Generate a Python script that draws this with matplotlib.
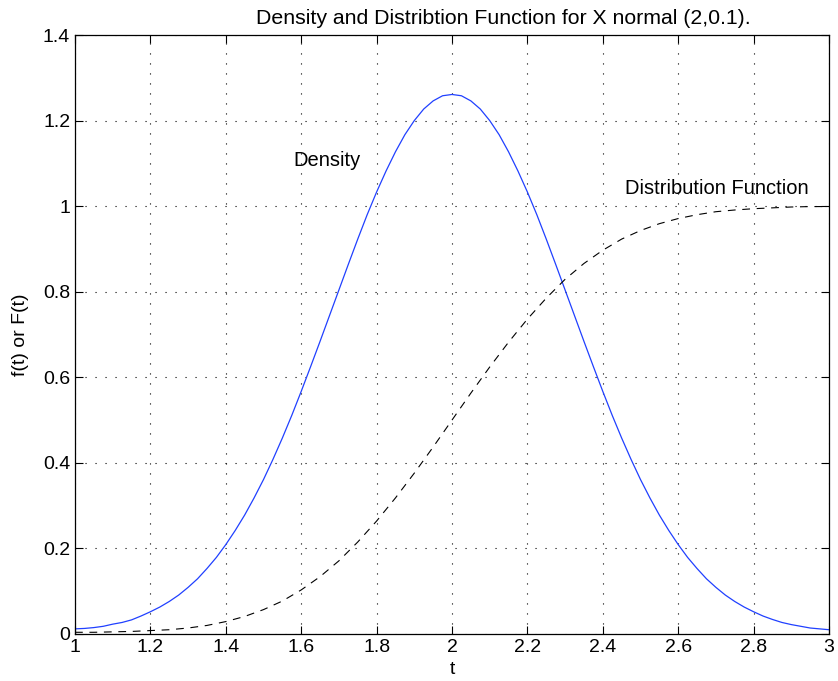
import numpy as np
import matplotlib.pyplot as plt

plt.rcParams['font.family'] = ['Liberation Sans', 'DejaVu Sans']

# density at t = 1.000, 1.025, ..., 3.000
t_f = np.round(np.arange(81) * 0.025 + 1.0, 3)
density = [0.012, 0.013, 0.015, 0.018, 0.023, 0.027, 0.033, 0.042, 0.052, 0.063,
           0.076, 0.091, 0.109, 0.129, 0.153, 0.179, 0.209, 0.242, 0.278, 0.318,
           0.361, 0.408, 0.458, 0.511, 0.567, 0.625, 0.684, 0.744, 0.804, 0.864,
           0.923, 0.980, 1.033, 1.082, 1.127, 1.167, 1.200, 1.227, 1.246, 1.258,
           1.261,
           1.258, 1.246, 1.227, 1.200, 1.167, 1.127, 1.082, 1.033, 0.980, 0.923,
           0.864, 0.804, 0.744, 0.684, 0.625, 0.567, 0.511, 0.458, 0.408, 0.361,
           0.318, 0.278, 0.242, 0.209, 0.179, 0.153, 0.129, 0.109, 0.091, 0.076,
           0.063, 0.052, 0.042, 0.034, 0.027, 0.022, 0.018, 0.014, 0.012, 0.010]

# distribution function read at t = 1.00, 1.05, ..., 3.00
t_F = np.round(np.arange(41) * 0.05 + 1.0, 2)
distrib = [0.004, 0.004, 0.005, 0.006, 0.008, 0.010, 0.014, 0.020, 0.029, 0.041,
           0.057, 0.077, 0.103, 0.134, 0.171, 0.215, 0.264, 0.318, 0.376, 0.437,
           0.500, 0.563, 0.624, 0.682, 0.736, 0.785, 0.829, 0.866, 0.897, 0.923,
           0.943, 0.959, 0.971, 0.980, 0.987, 0.991, 0.994, 0.996, 0.998, 0.999, 0.999]

fig = plt.figure(figsize=(8.38, 6.81), dpi=100)
ax = fig.add_axes([75/838, 1-634/681, 754/838, 599/681])

ax.plot(t_f, density, color='#2040ff', lw=0.9)
ax.plot(t_F, distrib, color='black', lw=0.8, linestyle=(0, (7, 6)))

ax.set_xlim(1, 3)
ax.set_ylim(0, 1.4)
ax.set_xticks(np.arange(1, 3.01, 0.2))
ax.set_xticklabels(['1', '1.2', '1.4', '1.6', '1.8', '2', '2.2', '2.4', '2.6', '2.8', '3'])
ax.set_yticks(np.arange(0, 1.41, 0.2))
ax.set_yticklabels(['0', '0.2', '0.4', '0.6', '0.8', '1', '1.2', '1.4'])
ax.tick_params(direction='in', length=6, width=0.8, labelsize=14,
               top=True, right=True)
ax.grid(True, color='black', linestyle=(0, (1, 8)), lw=0.8)
for s in ax.spines.values():
    s.set_linewidth(0.9)

ax.text(1.578, 1.107, 'Density', fontsize=14.5, va='center')
ax.text(2.459, 1.042, 'Distribution Function', fontsize=14.5, va='center')

fig.text(503/838, 1-18/681, 'Density and Distribtion Function for X normal (2,0.1).',
         fontsize=15.3, ha='center', va='center')
ax.set_xlabel('t', fontsize=14, labelpad=4)
ax.set_ylabel('f(t) or F(t)', fontsize=14, labelpad=10)

fig.savefig('out.png', dpi=100)
